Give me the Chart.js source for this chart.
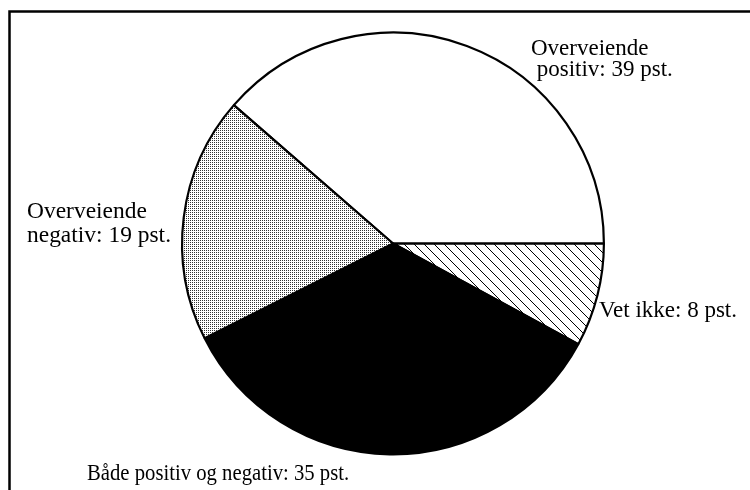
<!DOCTYPE html>
<html>
<head>
<meta charset="utf-8">
<script src="https://cdn.jsdelivr.net/npm/chart.js@4/dist/chart.umd.min.js"></script>
<style>
    html, body { margin: 0; padding: 0; background: #fff; }
    #wrap { width: 750px; height: 490px; }
</style>
</head>
<body>
<div id="wrap"><canvas id="chart" width="750" height="490"></canvas></div>
<script>
// values (pst.)
const categories = ['Overveiende positiv', 'Vet ikke', 'Både positiv og negativ', 'Overveiende negativ'];
const shares = [39, 8, 35, 19];
const labelLines = [
    ['Overveiende', ' positiv: 39 pst.'],
    ['Vet ikke: 8 pst.'],
    ['Både positiv og negativ: 35 pst.'],
    ['Overveiende', 'negativ: 19 pst.'],
];

const options = {
    font: '23px "Liberation Serif", "Times New Roman", serif',
    // where each label's text block starts (x, first baseline, line step, x squeeze)
    labelAnchors: [
        [531, 55, 21, 1],
        [599, 317, 0, 1],
        [87, 480, 0, 0.9],
        [27, 218, 24, 1.02],
    ],
};

function hatchPattern() {
    const c = document.createElement('canvas');
    c.width = 10;
    c.height = 10;
    const ctx = c.getContext('2d');
    ctx.fillStyle = '#fff';
    ctx.fillRect(0, 0, 10, 10);
    ctx.strokeStyle = '#000';
    ctx.lineWidth = 1;
    ctx.beginPath();
    ctx.moveTo(-2, -2); ctx.lineTo(12, 12);
    ctx.moveTo(-2, 8); ctx.lineTo(2, 12);
    ctx.moveTo(8, -2); ctx.lineTo(12, 2);
    ctx.stroke();
    return ctx.createPattern(c, 'repeat');
}

function dotPattern() {
    const c = document.createElement('canvas');
    c.width = 2;
    c.height = 2;
    const ctx = c.getContext('2d');
    ctx.fillStyle = '#fff';
    ctx.fillRect(0, 0, 2, 2);
    ctx.fillStyle = '#333';
    ctx.fillRect(0, 0, 1, 1);
    return ctx.createPattern(c, 'repeat');
}

const framePlugin = {
    id: 'frame',
    beforeDraw(chart) {
        const ctx = chart.ctx;
        ctx.save();
        ctx.strokeStyle = '#000';
        ctx.lineWidth = 2.5;
        ctx.beginPath();
        ctx.moveTo(9.5, 495);
        ctx.lineTo(9.5, 11.5);
        ctx.lineTo(755, 11.5);
        ctx.stroke();
        ctx.restore();
    }
};

const labelPlugin = {
    id: 'sliceLabels',
    afterDraw(chart) {
        const ctx = chart.ctx;
        ctx.save();
        ctx.font = options.font;
        ctx.fillStyle = '#000';
        ctx.textBaseline = 'alphabetic';
        labelLines.forEach((lines, i) => {
            const [x, y, step, sx] = options.labelAnchors[i];
            lines.forEach((t, j) => {
                ctx.save();
                ctx.translate(x, y + j * step);
                ctx.scale(sx, 1);
                ctx.fillText(t, 0, 0);
                ctx.restore();
            });
        });
        ctx.restore();
    }
};

window.onload = function () {
    new Chart(document.getElementById('chart'), {
        type: 'pie',
        data: {
            labels: categories,
            datasets: [{
                data: shares,
                backgroundColor: ['#ffffff', hatchPattern(), '#000000', dotPattern()],
                borderColor: '#000',
                borderWidth: 2.2,
                hoverOffset: 0,
            }]
        },
        options: {
            responsive: false,
            animation: false,
            rotation: -49,
            layout: { padding: { left: 181, right: 145, top: 31, bottom: 34 } },
            plugins: {
                legend: { display: false },
                tooltip: { enabled: false },
            },
        },
        plugins: [framePlugin, labelPlugin],
    });
};
</script>
</body>
</html>
